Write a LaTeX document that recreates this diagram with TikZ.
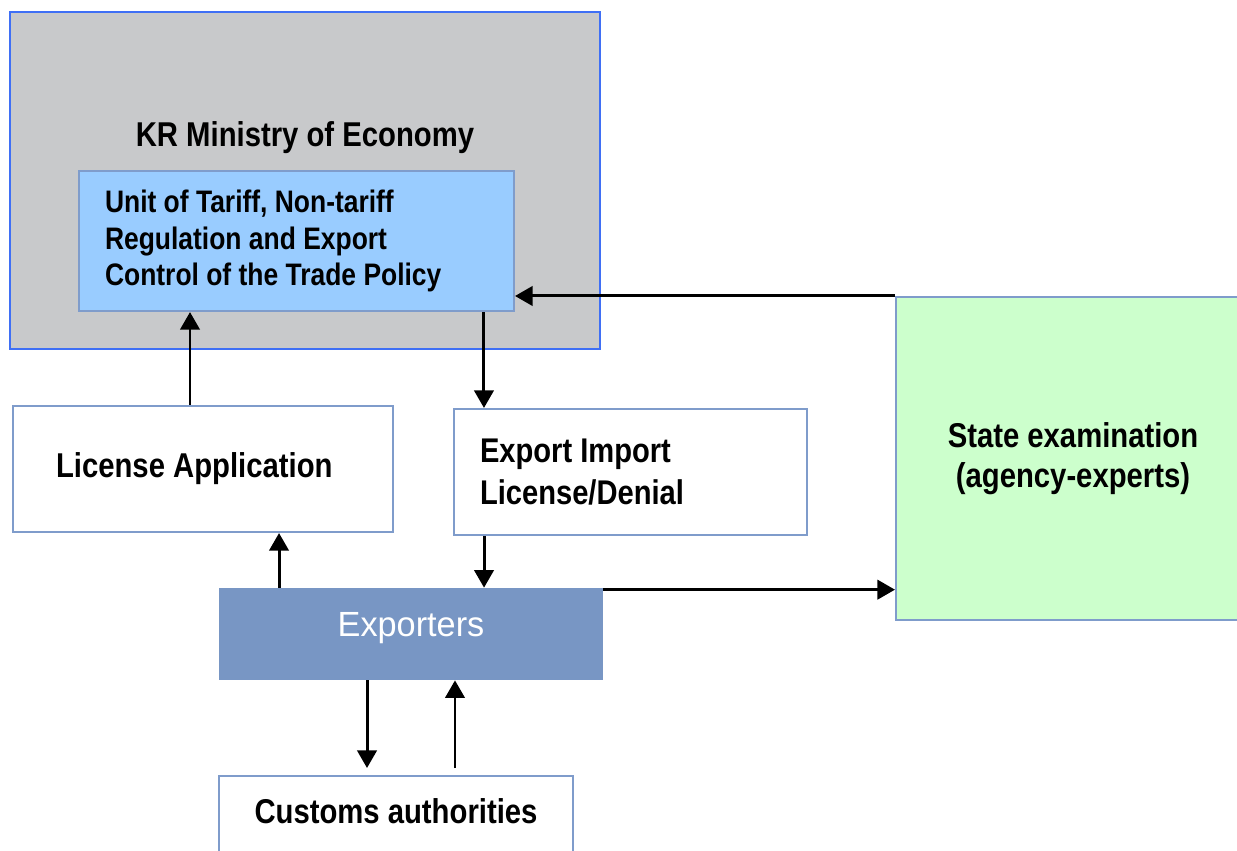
\documentclass[tikz,border=0pt]{standalone}
\usepackage{fontspec}
\setmainfont[FakeStretch=0.85]{Liberation Sans}
\newfontfamily\exportersfont[FakeStretch=0.98]{Liberation Sans}
\usetikzlibrary{arrows.meta}

\definecolor{ministrygray}{HTML}{C8C9CB}
\definecolor{ministryblue}{HTML}{3F6FF5}
\definecolor{unitblue}{HTML}{99CCFF}
\definecolor{boxedge}{HTML}{7F9CCB}
\definecolor{stategreen}{HTML}{CCFFCC}
\definecolor{exporterblue}{HTML}{7896C4}

\tikzset{
  box/.style={draw=boxedge, line width=1.2pt, inner sep=0pt},
  flow/.style={-{Triangle[length=10pt,width=11pt]}, line width=1.7pt},
  bigtext/.style={font=\fontsize{19.6}{23.5}\selectfont\bfseries},
}

\begin{document}
\begin{tikzpicture}[x=0.02cm,y=-0.02cm]
    \useasboundingbox (0,0) rectangle (1237,850);

    \node[box, draw=ministryblue, fill=ministrygray, minimum width=11.8cm, minimum height=6.74cm] at (305,180.5) (ministry) {};
    \node[bigtext] at (305,138) (ministry-title) {KR Ministry of Economy};
    \node[box, fill=unitblue, minimum width=8.7cm, minimum height=2.8cm, inner xsep=0.52cm, text width=7.66cm, align=flush left,
          font=\fontsize{17.7}{21}\selectfont\bfseries] at (296.5,241) (unit)
          {Unit of Tariff, Non-tariff\\Regulation and Export\\Control of the Trade Policy};

    \node[box, bigtext, minimum width=7.6cm, minimum height=2.52cm, inner xsep=0.86cm, text width=5.88cm, align=flush left]
          at (203,469) (license) {License Application};
    \node[box, bigtext, minimum width=7.06cm, minimum height=2.52cm, inner xsep=0.52cm, text width=6.02cm, align=flush left,
          font=\fontsize{19.5}{23.8}\selectfont\bfseries] at (630.5,472) (expimp) {Export Import\\License/Denial};
    \node[box, bigtext, fill=stategreen, minimum width=7.08cm, minimum height=6.46cm, align=flush center,
          font=\fontsize{19.6}{22.5}\selectfont\bfseries] at (1073,458.5) (state) {State examination\\(agency-experts)};

    \node[fill=exporterblue, text=white, minimum width=7.68cm, minimum height=1.84cm, text height=0.5cm, text depth=0.4cm,
          font=\exportersfont\fontsize{19.9}{24}\selectfont] at (411,634) (exporters) {Exporters};
    \node[box, bigtext, anchor=north, minimum width=7.08cm, inner ysep=0.44cm, text height=0.5cm, text depth=2cm]
          at (396,775) (customs) {Customs authorities};

    \draw[flow] ([xshift=-0.26cm]license.north) -- ([xshift=-0.26cm]license.north |- unit.south);
    \draw[flow] ([xshift=3.75cm]unit.south) -- ([xshift=3.75cm]unit.south |- expimp.north);
    \draw[flow] ([xshift=-2.93cm]expimp.south) -- ([xshift=-2.93cm]expimp.south |- exporters.north);
    \draw[flow] ([xshift=-2.64cm]exporters.north) -- ([xshift=-2.64cm]exporters.north |- license.south);
    \draw[flow] ([yshift=-0.04cm]exporters.north east) -- ([yshift=-0.04cm]exporters.north east -| state.west);
    \draw[flow] (state.north west) -- (state.north west -| unit.east);
    \draw[flow, shorten >=0.14cm] ([xshift=-0.88cm]exporters.south) -- ([xshift=-0.88cm]exporters.south |- customs.north);
    \draw[flow] ([xshift=1.18cm,yshift=0.14cm]customs.north) -- ([xshift=1.18cm]customs.north |- exporters.south);
\end{tikzpicture}
\end{document}
